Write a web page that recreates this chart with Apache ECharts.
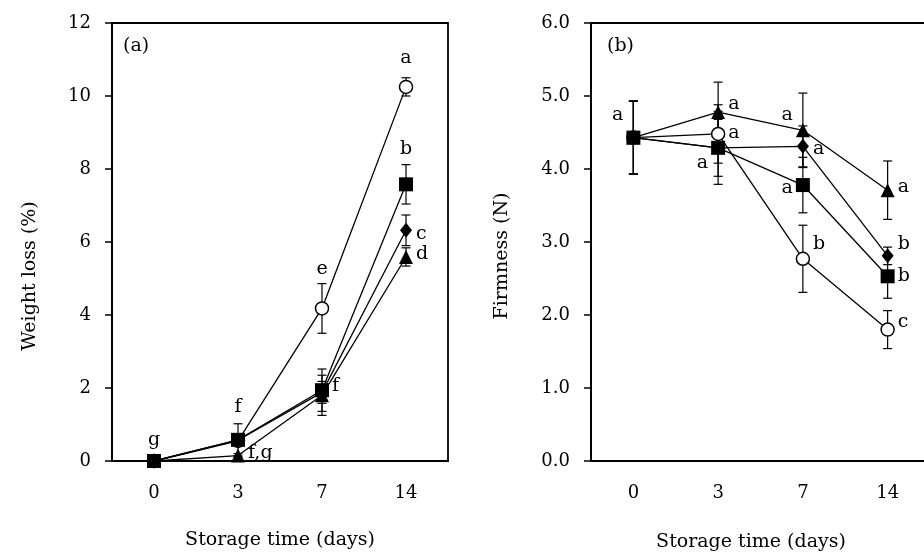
<!DOCTYPE html>
<html><head><meta charset="utf-8">
<script src="https://cdn.jsdelivr.net/npm/echarts@6/dist/echarts.min.js"></script>
<style>html,body{margin:0;padding:0;background:#fff}#c{width:924px;height:555px}</style>
</head><body><div id="c"></div>
<script>
// ---- data ----
const days = ['0', '3', '7', '14'];

// (a) Weight loss (%)
const wlCircle   = [0, 0.55, 4.18, 10.25];
const wlSquare   = [0, 0.58, 1.94, 7.58];
const wlDiamond  = [0, 0.57, 1.88, 6.32];
const wlTriangle = [0, 0.15, 1.80, 5.59];
const wlCircleErr   = [0, 0.10, 0.68, 0.25];
const wlSquareErr   = [0, 0.44, 0.58, 0.54];
const wlDiamondErr  = [0, 0.10, 0.30, 0.42];
const wlTriangleErr = [0, 0.05, 0.55, 0.25];
// letters: [day index, value where letter sits, text, side]
const wlLetters = [
  [0, 0.58, 'g', 'c'],
  [1, 1.48, 'f', 'c'],
  [1, 0.22, 'f,g', 'r'],
  [2, 5.26, 'e', 'c'],
  [2, 2.05, 'f', 'r'],
  [3, 11.04, 'a', 'c'],
  [3, 8.55, 'b', 'c'],
  [3, 6.22, 'c', 'r'],
  [3, 5.67, 'd', 'r']
];

// (b) Firmness (N)
const fCircle   = [4.43, 4.48, 2.77, 1.80];
const fSquare   = [4.43, 4.29, 3.78, 2.53];
const fDiamond  = [4.43, 4.29, 4.31, 2.81];
const fTriangle = [4.43, 4.78, 4.53, 3.71];
const fCircleErr   = [0.50, 0.40, 0.46, 0.26];
const fSquareErr   = [0.50, 0.50, 0.38, 0.30];
const fDiamondErr  = [0.50, 0.39, 0.28, 0.12];
const fTriangleErr = [0.50, 0.41, 0.51, 0.40];
const fLetters = [
  [0, 4.74, 'a', 'l'],
  [1, 4.89, 'a', 'r'],
  [1, 4.49, 'a', 'r'],
  [1, 4.08, 'a', 'l'],
  [2, 4.74, 'a', 'l'],
  [2, 4.27, 'a', 'r'],
  [2, 3.74, 'a', 'l'],
  [2, 2.97, 'b', 'r'],
  [3, 3.75, 'a', 'r'],
  [3, 2.97, 'b', 'r'],
  [3, 2.53, 'b', 'r'],
  [3, 1.90, 'c', 'r']
];

// ---- chart ----
const FONT = 'DejaVu Serif';
const chart = echarts.init(document.getElementById('c'), null, {renderer: 'canvas'});

function errSeries(vals, errs, gi, z) {
  return {
    type: 'custom', xAxisIndex: gi, yAxisIndex: gi, z: z, silent: true,
    data: vals.map((v, i) => [i, v - errs[i], v + errs[i]]),
    encode: {x: 0, y: [1, 2]},
    renderItem: function (params, api) {
      const x = api.value(0), lo = api.value(1), hi = api.value(2);
      if (hi - lo <= 0) return null;
      const a = api.coord([x, hi]), b = api.coord([x, lo]);
      const w = 4.5, st = {stroke: '#000', lineWidth: 1.2};
      return {type: 'group', children: [
        {type: 'line', shape: {x1: a[0], y1: a[1], x2: b[0], y2: b[1]}, style: st},
        {type: 'line', shape: {x1: a[0] - w, y1: a[1], x2: a[0] + w, y2: a[1]}, style: st},
        {type: 'line', shape: {x1: b[0] - w, y1: b[1], x2: b[0] + w, y2: b[1]}, style: st}
      ]};
    }
  };
}

function lineSeries(name, vals, gi, symbol, size, open, z) {
  return {
    name: name, type: 'line', xAxisIndex: gi, yAxisIndex: gi, z: z,
    data: vals, symbol: symbol, symbolSize: size, showAllSymbol: true,
    lineStyle: {color: '#000', width: 1.3},
    itemStyle: open ? {color: '#fff', borderColor: '#000', borderWidth: 1.5} : {color: '#000', borderColor: '#000', borderWidth: 0},
    emphasis: {disabled: true}, animation: false
  };
}

function letterSeries(letters, gi) {
  return {
    type: 'custom', xAxisIndex: gi, yAxisIndex: gi, z: 20, silent: true, clip: false,
    data: letters.map(d => [d[0], d[1]]),
    encode: {x: 0, y: 1},
    renderItem: function (params, api) {
      const d = letters[params.dataIndex];
      const p = api.coord([d[0], d[1]]);
      let dx = 0, align = 'center';
      if (d[3] === 'r') { dx = 10; align = 'left'; }
      if (d[3] === 'l') { dx = -10; align = 'right'; }
      return {type: 'text', x: p[0] + dx, y: p[1],
        style: {text: d[2], fill: '#000', font: '19px "' + FONT + '"', align: align, verticalAlign: 'middle'}};
    }
  };
}

function xAx(gi) {
  return {
    type: 'category', gridIndex: gi, data: days, boundaryGap: true,
    axisLine: {lineStyle: {color: '#000', width: 1.8}},
    axisTick: {alignWithLabel: true, length: 5, lineStyle: {color: '#000', width: 1.5}},
    axisLabel: {color: '#000', fontFamily: FONT, fontSize: 18, margin: 23},
    splitLine: {show: false}
  };
}
function yAx(gi, max, interval, fmt) {
  return {
    type: 'value', gridIndex: gi, min: 0, max: max, interval: interval,
    axisLine: {show: true, lineStyle: {color: '#000', width: 1.8}},
    axisTick: {show: true, length: 7, lineStyle: {color: '#000', width: 1.5}},
    axisLabel: {color: '#000', fontFamily: FONT, fontSize: 18, margin: 21, formatter: fmt},
    splitLine: {show: false}
  };
}

const titleStyle = {fill: '#000', font: '19px "' + FONT + '"', textAlign: 'center', textVerticalAlign: 'middle'};

chart.setOption({
  animation: false,
  backgroundColor: '#fff',
  grid: [
    {left: 112, top: 23, width: 336, height: 438, show: true, borderColor: '#000', borderWidth: 1.8, backgroundColor: 'transparent', outerBoundsMode: 'none', containLabel: false},
    {left: 591, top: 23, width: 339, height: 438, show: true, borderColor: '#000', borderWidth: 1.8, backgroundColor: 'transparent', outerBoundsMode: 'none', containLabel: false}
  ],
  xAxis: [xAx(0), xAx(1)],
  yAxis: [
    yAx(0, 12, 2, v => String(v)),
    yAx(1, 6, 1, v => v.toFixed(1))
  ],
  graphic: [
    {type: 'text', x: 30, y: 276, rotation: Math.PI / 2, style: Object.assign({text: 'Weight loss (%)'}, titleStyle)},
    {type: 'text', x: 502, y: 256, rotation: Math.PI / 2, style: Object.assign({text: 'Firmness (N)'}, titleStyle)},
    {type: 'text', x: 280, y: 540, style: Object.assign({text: 'Storage time (days)'}, titleStyle)},
    {type: 'text', x: 751, y: 542, style: Object.assign({text: 'Storage time (days)'}, titleStyle)},
    {type: 'text', x: 123, y: 46, style: {text: '(a)', fill: '#000', font: '19px "' + FONT + '"', textAlign: 'left', textVerticalAlign: 'middle'}},
    {type: 'text', x: 607, y: 46, style: {text: '(b)', fill: '#000', font: '19px "' + FONT + '"', textAlign: 'left', textVerticalAlign: 'middle'}}
  ],
  series: [
    errSeries(wlCircle, wlCircleErr, 0, 1),
    errSeries(wlTriangle, wlTriangleErr, 0, 1),
    errSeries(wlDiamond, wlDiamondErr, 0, 1),
    errSeries(wlSquare, wlSquareErr, 0, 1),
    lineSeries('Open circle', wlCircle, 0, 'circle', 13, true, 2),
    lineSeries('Triangle', wlTriangle, 0, 'triangle', 14, false, 3),
    lineSeries('Diamond', wlDiamond, 0, 'diamond', [12, 15], false, 4),
    lineSeries('Square', wlSquare, 0, 'rect', 14, false, 5),
    letterSeries(wlLetters, 0),

    errSeries(fCircle, fCircleErr, 1, 1),
    errSeries(fTriangle, fTriangleErr, 1, 1),
    errSeries(fDiamond, fDiamondErr, 1, 1),
    errSeries(fSquare, fSquareErr, 1, 1),
    lineSeries('Open circle', fCircle, 1, 'circle', 13, true, 2),
    lineSeries('Triangle', fTriangle, 1, 'triangle', 14, false, 3),
    lineSeries('Diamond', fDiamond, 1, 'diamond', [12, 15], false, 4),
    lineSeries('Square', fSquare, 1, 'rect', 14, false, 5),
    letterSeries(fLetters, 1)
  ]
});
</script>
</body></html>
